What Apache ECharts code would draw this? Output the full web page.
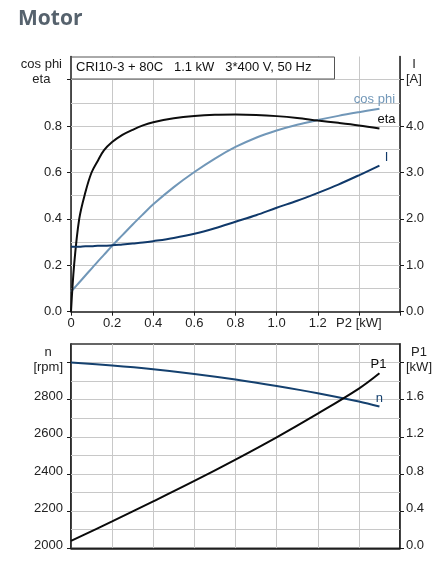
<!DOCTYPE html>
<html>
<head>
<meta charset="utf-8">
<script src="https://cdn.jsdelivr.net/npm/echarts@6/dist/echarts.min.js"></script>
<style>
  html, body { margin: 0; padding: 0; background: #fff; }
  #motorChart { width: 444px; height: 575px; }
</style>
</head>
<body>
<div id="motorChart"></div>
<script>
// upper diagram: P2 [kW] against eta, cos phi and I
const P2_TOP = [0, 0.015, 0.04, 0.07, 0.1, 0.13, 0.16, 0.2, 0.25, 0.3, 0.35, 0.4, 0.5, 0.6, 0.7, 0.8, 0.9, 1.0, 1.1, 1.2, 1.3, 1.4, 1.5]
const ETA = [0, 0.2, 0.4, 0.515, 0.6, 0.65, 0.695, 0.731, 0.762, 0.784, 0.803, 0.817, 0.834, 0.844, 0.849, 0.85, 0.848, 0.843, 0.835, 0.824, 0.814, 0.803, 0.79]
const COS_PHI = [0.086, 0.101, 0.126, 0.156, 0.186, 0.216, 0.245, 0.284, 0.33, 0.376, 0.42, 0.463, 0.537, 0.602, 0.66, 0.71, 0.75, 0.781, 0.806, 0.826, 0.844, 0.86, 0.875]
const CURRENT = [1.4, 1.4, 1.4, 1.41, 1.41, 1.42, 1.42, 1.43, 1.45, 1.47, 1.49, 1.52, 1.59, 1.68, 1.8, 1.94, 2.08, 2.24, 2.39, 2.56, 2.74, 2.94, 3.15]

// lower diagram: speed n and input power P1
const P2_BOTTOM = [0, 0.2, 0.4, 0.6, 0.8, 1.0, 1.2, 1.4, 1.5]
const SPEED = [3000, 2984, 2964, 2939, 2909, 2874, 2835, 2790, 2763]
const P1 = [0.08, 0.29, 0.505, 0.725, 0.955, 1.195, 1.45, 1.72, 1.885]

const X_TICK_LABELS = ['0', '0.2', '0.4', '0.6', '0.8', '1.0', '1.2', 'P2 [kW]', '']
const ETA_TICKS = [0, 0.2, 0.4, 0.6, 0.8, 1.0]
const ETA_LABELS = ['0.0', '0.2', '0.4', '0.6', '0.8', 'cos phi\neta']
const I_TICKS = [0, 1, 2, 3, 4, 5]
const I_LABELS = ['0.0', '1.0', '2.0', '3.0', '4.0', 'I\n[A]']
const N_TICKS = [2000, 2200, 2400, 2600, 2800, 3000]
const N_LABELS = ['2000', '2200', '2400', '2600', '2800', 'n\n[rpm]']
const P1_TICKS = [0, 0.4, 0.8, 1.2, 1.6, 2.0]
const P1_LABELS = ['0.0', '0.4', '0.8', '1.2', '1.6', 'P1\n[kW]']

// horizontal grid lines
const TOP_GRID_VALUES = [0.1, 0.2, 0.3, 0.4, 0.5, 0.6, 0.7, 0.8, 0.9, 1.0]
const BOTTOM_GRID_VALUES = [2100, 2200, 2300, 2400, 2500, 2600, 2700, 2800, 2900, 3000]

const FONT = 'Liberation Sans'
const AXIS_COLOR = '#1a1a1a'
const GRID_COLOR = '#c8c8c8'
const NONE = 'rgba(0,0,0,0)'

const pairs = (xs, ys) => xs.map((x, i) => [x, ys[i]])

// unit labels are two lines, centred over each other
const tickLabel = (ticks, labels, extraLine) => (value) => {
  const i = ticks.findIndex(t => Math.abs(t - value) < 1e-6)
  if (i < 0) return ''
  const text = labels[i]
  if (text.indexOf('\n') < 0) return text
  return text.split('\n').map(l => '{u|' + l + '}').join('\n') + (extraLine ? '\n{u| }' : '')
}

const labelRich = { u: { align: 'center', fontFamily: FONT, fontSize: 13, color: '#222', lineHeight: 15 } }

const valueAxis = (opts) => Object.assign({
  type: 'value',
  axisLine: { show: true, onZero: false, lineStyle: { color: AXIS_COLOR, width: 1.5 } },
  axisTick: { show: true, length: 4, lineStyle: { color: AXIS_COLOR } },
  splitLine: { show: false },
  axisLabel: { fontFamily: FONT, fontSize: 13, color: '#222', margin: 8, rich: labelRich }
}, opts)

const curve = (name, xIdx, yIdx, data, color, offset) => ({
  name: name,
  type: 'line',
  xAxisIndex: xIdx,
  yAxisIndex: yIdx,
  data: data,
  smooth: 0.35,
  showSymbol: false,
  lineStyle: { color: color, width: 2 },
  itemStyle: { color: color },
  endLabel: {
    show: true,
    formatter: name,
    color: color,
    fontFamily: FONT,
    fontSize: 13,
    align: 'center',
    verticalAlign: 'middle',
    distance: 0,
    offset: offset
  },
  z: 3
})

// light horizontal grid drawn as mark lines on the axis scale, kept under the curves
const gridLines = (xIdx, yIdx, values) => ({
  type: 'line',
  xAxisIndex: xIdx,
  yAxisIndex: yIdx,
  data: [],
  silent: true,
  z: 1,
  markLine: {
    z: 1,
    silent: true,
    animation: false,
    symbol: ['none', 'none'],
    label: { show: false },
    lineStyle: { color: GRID_COLOR, width: 1, type: 'solid' },
    emphasis: { disabled: true },
    data: values.map(v => ({ yAxis: v }))
  }
})

const motorChart = echarts.init(document.getElementById('motorChart'), null, { renderer: 'canvas' })
const motorOption = {
  animation: false,
  backgroundColor: '#fff',
  title: {
    text: 'Motor',
    left: 13,
    top: 4,
    textStyle: { fontFamily: 'Open Sans', fontSize: 21, fontWeight: 'bold', color: '#56626d' }
  },
  graphic: [
    { type: 'rect', left: 71, top: 56.5, z: 100, shape: { x: 0, y: 0, width: 263, height: 22 }, style: { fill: '#fff', stroke: '#555', lineWidth: 1 } },
    { type: 'text', left: 76, top: 61, z: 101, style: { text: 'CRI10-3 + 80C   1.1 kW   3*400 V, 50 Hz', font: '13px "Liberation Sans"', fill: '#111' } }
  ],
  grid: [
    { left: 71, right: 44, top: 56.5, height: 255.2 },
    { left: 71, right: 44, top: 344, height: 204.3, show: true, borderColor: '#333', borderWidth: 1.5 }
  ],
  xAxis: [
    {
      type: 'value', gridIndex: 0, min: 0, max: 1.6, interval: 0.2,
      axisLine: { onZero: false, lineStyle: { color: AXIS_COLOR, width: 1.5 } },
      axisTick: { show: true, length: 4, lineStyle: { color: AXIS_COLOR } },
      axisLabel: {
        fontFamily: FONT, fontSize: 13, color: '#222', margin: 5, showMaxLabel: true,
        formatter: (v) => X_TICK_LABELS[Math.round(v / 0.2)] || ''
      },
      splitLine: { show: true, lineStyle: { color: GRID_COLOR, width: 1 } }
    },
    {
      type: 'value', gridIndex: 1, min: 0, max: 1.6, interval: 0.2,
      axisLine: { onZero: false, lineStyle: { color: AXIS_COLOR, width: 1.5 } },
      axisTick: { show: true, length: 0, lineStyle: { color: NONE } },
      axisLabel: { show: true, color: NONE, formatter: () => '' },
      splitLine: { show: true, lineStyle: { color: GRID_COLOR, width: 1 } }
    }
  ],
  yAxis: [
    // 0: cos phi / eta
    valueAxis({
      gridIndex: 0, position: 'left', min: 0, max: 1.1, interval: 0.2,
      axisTick: { show: true, length: 4, customValues: ETA_TICKS, lineStyle: { color: AXIS_COLOR } },
      axisLabel: { fontFamily: FONT, fontSize: 13, color: '#222', margin: 9, rich: labelRich, customValues: ETA_TICKS, formatter: tickLabel(ETA_TICKS, ETA_LABELS, true) }
    }),
    // 1: I [A]
    valueAxis({
      gridIndex: 0, position: 'right', min: 0, max: 5.5, interval: 1,
      axisTick: { show: true, length: 4, customValues: I_TICKS, lineStyle: { color: AXIS_COLOR } },
      axisLabel: { fontFamily: FONT, fontSize: 13, color: '#222', margin: 6, rich: labelRich, customValues: I_TICKS, formatter: tickLabel(I_TICKS, I_LABELS, true) }
    }),
    // 2: n [rpm]
    valueAxis({
      gridIndex: 1, position: 'left', min: 2000, max: 3100, interval: 200,
      axisTick: { show: true, length: 4, customValues: N_TICKS, lineStyle: { color: AXIS_COLOR } },
      axisLabel: { fontFamily: FONT, fontSize: 13, color: '#222', margin: 8, rich: labelRich, padding: [0, 0, 6, 0], customValues: N_TICKS, formatter: tickLabel(N_TICKS, N_LABELS, false) }
    }),
    // 3: P1 [kW]
    valueAxis({
      gridIndex: 1, position: 'right', min: 0, max: 2.2, interval: 0.4,
      axisTick: { show: true, length: 4, customValues: P1_TICKS, lineStyle: { color: AXIS_COLOR } },
      axisLabel: { fontFamily: FONT, fontSize: 13, color: '#222', margin: 6, rich: labelRich, padding: [0, 0, 6, 0], customValues: P1_TICKS, formatter: tickLabel(P1_TICKS, P1_LABELS, false) }
    })
  ],
  series: [
    gridLines(0, 0, TOP_GRID_VALUES),
    gridLines(1, 2, BOTTOM_GRID_VALUES),
    curve('cos phi', 0, 0, pairs(P2_TOP, COS_PHI), '#7197b8', [-5, -9]),
    curve('eta', 0, 0, pairs(P2_TOP, ETA), '#0d0d0d', [7, -9]),
    curve('I', 0, 1, pairs(P2_TOP, CURRENT), '#10396a', [7, -8]),
    curve('n', 1, 2, pairs(P2_BOTTOM, SPEED), '#15416f', [0, -8]),
    curve('P1', 1, 3, pairs(P2_BOTTOM, P1), '#0a0a0a', [-1, -9])
  ]
}
motorChart.setOption(motorOption)
</script>
</body>
</html>
